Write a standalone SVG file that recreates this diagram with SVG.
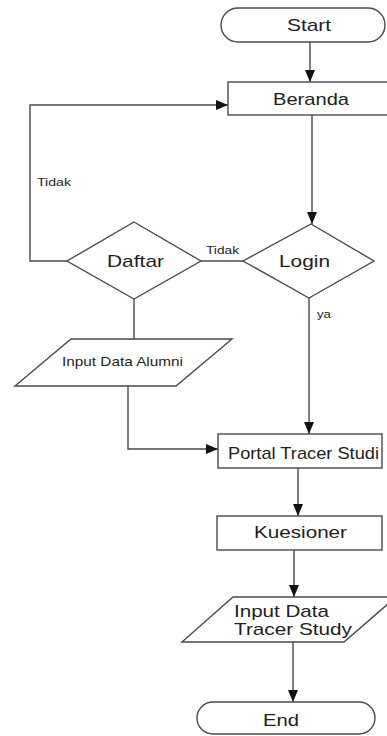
<svg xmlns="http://www.w3.org/2000/svg" width="387" height="736" viewBox="0 0 387 736">
<style>
.s{fill:#fff;stroke:#4a4a4a;stroke-width:1.4}
.c{fill:none;stroke:#4a4a4a;stroke-width:1.4}
.t{font-family:"Liberation Sans",Arial,sans-serif;fill:#1e1e1e}
.big{font-size:17px}
.sm{font-size:11px}
.md{font-size:13px}
</style>
<defs>
<marker id="a" viewBox="0 0 12 10" refX="12" refY="5" markerWidth="12" markerHeight="10" markerUnits="userSpaceOnUse" orient="auto">
<path d="M0,0 L12,5 L0,10 Z" fill="#111"/>
</marker>
</defs>
<rect width="387" height="736" fill="#fff"/>
<g id="connectors">
<line class="c" x1="310" y1="42" x2="310" y2="82" marker-end="url(#a)"/>
<line class="c" x1="312" y1="115" x2="312" y2="224" marker-end="url(#a)"/>
<line class="c" x1="201" y1="261" x2="243" y2="261"/>
<polyline class="c" points="67,261 30,261 30,105 228,105" marker-end="url(#a)"/>
<line class="c" x1="134" y1="299" x2="134" y2="339"/>
<polyline class="c" points="128,386 128,449 218,449" marker-end="url(#a)"/>
<line class="c" x1="309" y1="298" x2="309" y2="434" marker-end="url(#a)"/>
<line class="c" x1="298" y1="468" x2="298" y2="516" marker-end="url(#a)"/>
<line class="c" x1="294" y1="550" x2="294" y2="597" marker-end="url(#a)"/>
<line class="c" x1="293" y1="642" x2="293" y2="702" marker-end="url(#a)"/>
<text class="t sm" x="37" y="186" textLength="34" lengthAdjust="spacingAndGlyphs">Tidak</text>
<text class="t sm" x="206" y="254" textLength="33" lengthAdjust="spacingAndGlyphs">Tidak</text>
<text class="t sm" x="317" y="318" textLength="14" lengthAdjust="spacingAndGlyphs">ya</text>
</g>
<g id="start">
<rect class="s" x="221" y="8" width="164" height="34" rx="17"/>
<text class="t big" x="287" y="31" textLength="44" lengthAdjust="spacingAndGlyphs">Start</text>
</g>
<g id="beranda">
<rect class="s" x="228" y="82" width="165" height="33"/>
<text class="t big" x="273" y="105" textLength="76" lengthAdjust="spacingAndGlyphs">Beranda</text>
</g>
<g id="login">
<polygon class="s" points="311,224 374,261 309,298 243,261"/>
<text class="t big" x="279" y="267" textLength="51" lengthAdjust="spacingAndGlyphs">Login</text>
</g>
<g id="daftar">
<polygon class="s" points="134,222 201,261 134,299 67,261"/>
<text class="t big" x="107" y="267" textLength="57" lengthAdjust="spacingAndGlyphs">Daftar</text>
</g>
<g id="input-alumni">
<polygon class="s" points="71,339 232,339 176,386 15,386"/>
<text class="t md" x="62" y="366" textLength="121" lengthAdjust="spacingAndGlyphs">Input Data Alumni</text>
</g>
<g id="portal">
<rect class="s" x="218" y="434" width="164" height="34"/>
<text class="t big" x="228" y="459" textLength="151" lengthAdjust="spacingAndGlyphs">Portal Tracer Studi</text>
</g>
<g id="kuesioner">
<rect class="s" x="217" y="516" width="165" height="34"/>
<text class="t big" x="254" y="538" textLength="93" lengthAdjust="spacingAndGlyphs">Kuesioner</text>
</g>
<g id="input-tracer">
<polygon class="s" points="233,597 396,597 344,642 182,642"/>
<text class="t big" x="234" y="617" textLength="95" lengthAdjust="spacingAndGlyphs">Input Data</text>
<text class="t big" x="234" y="635" textLength="118" lengthAdjust="spacingAndGlyphs">Tracer Study</text>
</g>
<g id="end">
<rect class="s" x="197" y="702" width="178" height="32" rx="16"/>
<text class="t big" x="263" y="726" textLength="36" lengthAdjust="spacingAndGlyphs">End</text>
</g>
</svg>
